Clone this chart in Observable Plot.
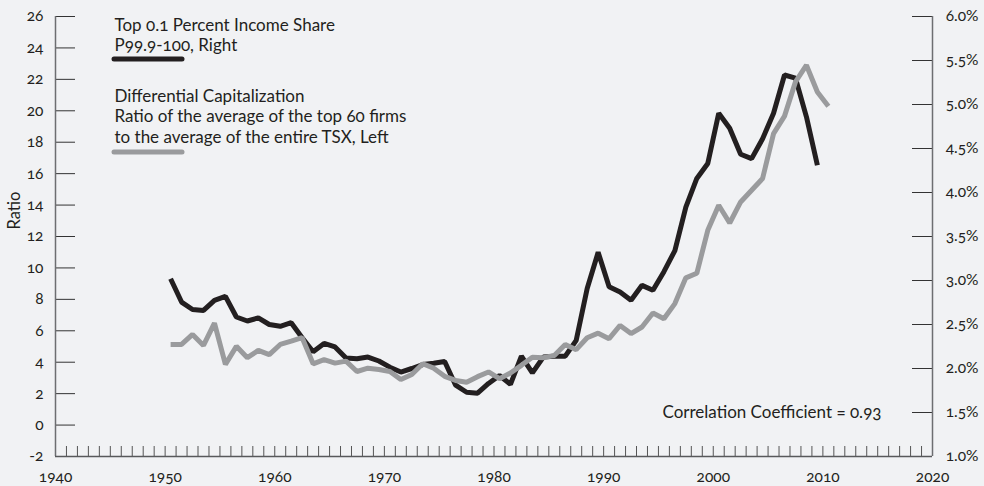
<!DOCTYPE html>
<html><head><meta charset="utf-8">
<script src="https://cdn.jsdelivr.net/npm/d3@7"></script>
<script src="https://cdn.jsdelivr.net/npm/@observablehq/plot@0.6"></script>
<style>
html,body{margin:0;padding:0;background:#f1f2f4;}
#chart svg text{font-variant-numeric:oldstyle-nums !important;}
</style></head><body><div id="chart"></div>
<script>
// ---- data ----
const incomeYears = d3.range(1950, 2010);
const incomeShare = [
  3.02, 2.755, 2.67, 2.66, 2.775, 2.82, 2.585, 2.54, 2.575, 2.50,
  2.48, 2.52, 2.35, 2.19, 2.285, 2.245, 2.12, 2.11, 2.13, 2.085,
  2.015, 1.96, 2.00, 2.045, 2.06, 2.08, 1.81, 1.73, 1.72, 1.83,
  1.92, 1.82, 2.14, 1.95, 2.13, 2.14, 2.14, 2.32, 2.91, 3.32,
  2.93, 2.87, 2.775, 2.945, 2.89, 3.10, 3.34, 3.835, 4.16, 4.33,
  4.90, 4.73, 4.435, 4.385, 4.61, 4.90, 5.335, 5.30, 4.86, 4.31
];
const capYears = d3.range(1950, 2011);
const capRatio = [
  5.13, 5.13, 5.77, 5.07, 6.49, 3.86, 5.01, 4.29, 4.75, 4.48,
  5.13, 5.34, 5.56, 3.90, 4.16, 3.94, 4.07, 3.41, 3.62, 3.54,
  3.41, 2.90, 3.22, 3.90, 3.62, 3.10, 2.84, 2.73, 3.08, 3.38,
  2.95, 3.31, 3.80, 4.32, 4.29, 4.43, 5.13, 4.80, 5.56, 5.85,
  5.50, 6.34, 5.82, 6.24, 7.13, 6.77, 7.73, 9.37, 9.66, 12.39,
  13.99, 12.86, 14.20, 14.94, 15.69, 18.55, 19.66, 21.84, 22.90, 21.20,
  20.29
];
const leftTicks = [-2, 0, 2, 4, 6, 8, 10, 12, 14, 16, 18, 20, 22, 24, 26];
const rightTicks = [1.0, 1.5, 2.0, 2.5, 3.0, 3.5, 4.0, 4.5, 5.0, 5.5, 6.0];
const decadeTicks = [1940, 1950, 1960, 1970, 1980, 1990, 2000, 2010, 2020];
const yearTicks = d3.range(1941, 2020);
const legendIncome = ["Top 0.1 Percent Income Share", "P99.9-100, Right"];
const legendCap = ["Differential Capitalization", "Ratio of the average of the top 60 firms", "to the average of the entire TSX, Left"];
const yLabel = "Ratio";
const note = "Correlation Coefficient = 0.93";

// ---- layout ----
const W = 984, H = 486, mL = 55, mR = 52, mT = 16, mB = 30;
const fw = W - mL - mR, fh = H - mT - mB;
const ink = "#231f20", grey = "#9a9b9d";

// right axis (percent) mapped onto the left (ratio) scale
const pct = d3.scaleLinear([1, 6], [-2, 26]);
const incomeData = incomeYears.map((year, i) => ({year, value: pct(incomeShare[i])}));
const capData = capYears.map((year, i) => ({year, value: capRatio[i]}));

function legendSwatches(index, scales, values, dim) {
  const g = d3.create("svg:g");
  const items = [{y: 59, c: ink}, {y: 152, c: grey}];
  for (const it of items) {
    g.append("line").attr("x1", 114).attr("x2", 182).attr("y1", it.y).attr("y2", it.y)
      .attr("stroke", it.c).attr("stroke-width", 5).attr("stroke-linecap", "round");
  }
  return g.node();
}

const chart = Plot.plot({
  width: W, height: H,
  marginLeft: mL, marginRight: mR, marginTop: mT, marginBottom: mB,
  style: {background: "#f1f2f4", color: ink, fontFamily: "Lato", fontSize: "15.5px", overflow: "visible"},
  x: {domain: [1940, 2020]},
  y: {domain: [-2, 26]},
  marks: [
    Plot.tickX(yearTicks, {x: d => d, insetTop: fh - 10, stroke: "#555", strokeWidth: 1}),
    Plot.tickY(leftTicks, {y: d => d, insetRight: fw - 20, stroke: "#333", strokeWidth: 1}),
    Plot.tickY(rightTicks.map(pct), {y: d => d, insetLeft: fw - 20, stroke: "#333", strokeWidth: 1}),
    Plot.ruleX([1940, 2020], {stroke: "#6d6e71", strokeWidth: 1.5}),
    Plot.ruleY([-2], {stroke: "#58595b", strokeWidth: 1.5}),
    Plot.axisY(leftTicks, {anchor: "left", tickSize: 0, tickPadding: 12, label: null, tickFormat: d => String(d)}),
    Plot.axisY(rightTicks.map(pct), {anchor: "right", tickSize: 0, tickPadding: 46, textAnchor: "end",
      tickFormat: d => pct.invert(d).toFixed(1) + "%", label: null}),
    Plot.axisX(decadeTicks, {anchor: "bottom", tickSize: 0, tickPadding: 14, tickFormat: d => String(d), label: null}),
    Plot.text([yLabel], {frameAnchor: "left", rotate: -90, dx: -41, dy: -7, fontSize: 16.5, fill: ink}),
    Plot.line(incomeData, {x: d => d.year + 0.5, y: "value", stroke: ink, strokeWidth: 5,
      strokeLinejoin: "miter", strokeLinecap: "butt"}),
    Plot.line(capData, {x: d => d.year + 0.5, y: "value", stroke: grey, strokeWidth: 5,
      strokeLinejoin: "miter", strokeLinecap: "butt"}),
    Plot.text([legendIncome.join("\n")], {frameAnchor: "top-left", dx: 59, dy: 0, textAnchor: "start",
      lineAnchor: "top", lineHeight: 1.2, fontSize: 17, fill: ink}),
    Plot.text([legendCap.join("\n")], {frameAnchor: "top-left", dx: 59, dy: 71, textAnchor: "start",
      lineAnchor: "top", lineHeight: 1.2, fontSize: 17, fill: ink}),
    legendSwatches,
    Plot.text([note], {frameAnchor: "bottom-right", dx: -51, dy: -44, textAnchor: "end",
      lineAnchor: "middle", fontSize: 17, fill: ink})
  ]
});
document.getElementById("chart").appendChild(chart);
</script>
</body></html>
